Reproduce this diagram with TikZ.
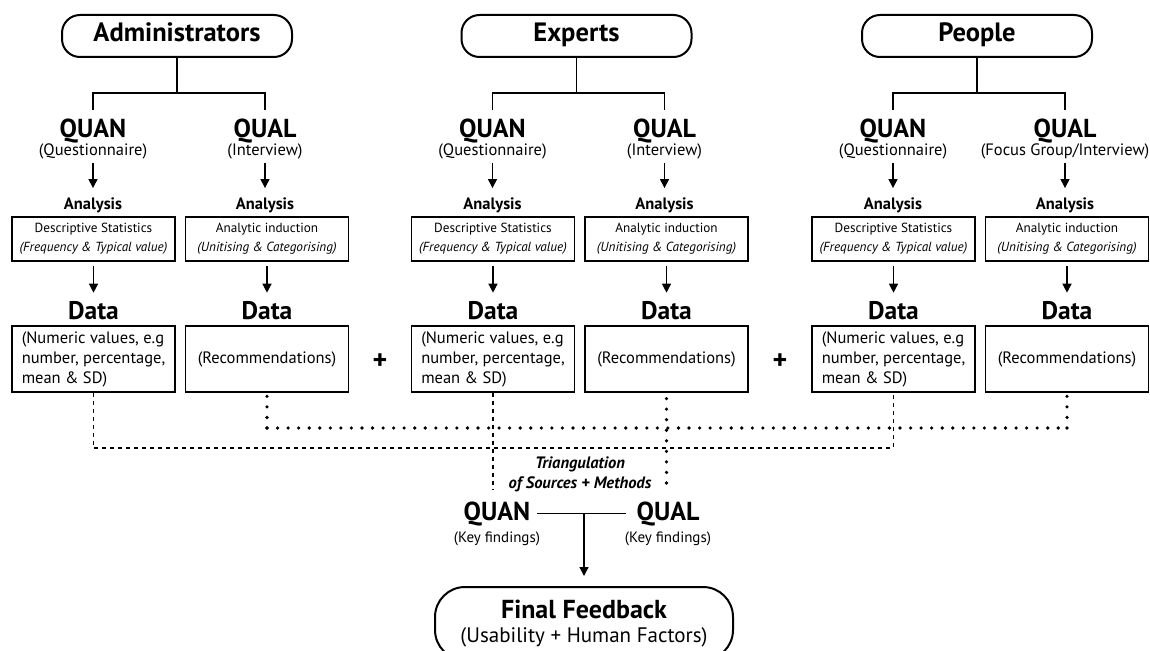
\documentclass[tikz,border=0pt]{standalone}
\usepackage{fontspec}
\setmainfont{PT Sans}
\usetikzlibrary{arrows.meta}
\tikzset{
  topbox/.style={draw, line width=2pt, rounded corners=18pt, minimum width=230pt, minimum height=42pt, inner sep=0pt, text height=18pt, text depth=6pt, font=\fontsize{26.5}{28}\selectfont\bfseries},
  methodtxt/.style={anchor=base, inner sep=0pt, font=\fontsize{26}{28}\selectfont\bfseries},
  subtxt/.style={anchor=base, inner sep=0pt, font=\fontsize{16.5}{18}\selectfont},
  antxt/.style={anchor=base, inner sep=0pt, font=\fontsize{16.5}{18}\selectfont\bfseries},
  anbox/.style={draw, line width=1.2pt, minimum width=163pt, minimum height=44pt, inner sep=0pt, align=center, font=\fontsize{13.2}{19}\selectfont},
  datatxt/.style={anchor=base, inner sep=0pt, font=\fontsize{25.5}{28}\selectfont\bfseries},
  databox/.style={draw, line width=1.2pt, minimum width=163pt, minimum height=66pt, inner sep=0pt, font=\fontsize{16.5}{20}\selectfont},
  plustxt/.style={inner sep=0pt, font=\fontsize{28}{28}\selectfont\bfseries},
  conn/.style={line width=1.3pt},
  arr/.style={line width=1.3pt, -{Triangle[width=9pt,length=9pt]}},
  dashline/.style={line width=1.2pt, dash pattern=on 4pt off 4pt},
  dotline/.style={line width=3.6pt, line cap=round, dash pattern=on 0pt off 10.55pt},
  keytxt/.style={anchor=base, inner sep=0pt, font=\fontsize{15}{18}\selectfont},
  finalbox/.style={draw, line width=2pt, rounded corners=30pt, minimum width=298pt, minimum height=73pt, inner sep=0pt, align=center, font=\fontsize{26}{24}\selectfont\bfseries},
}
\begin{document}
\begin{tikzpicture}[x=1pt, y=-1pt]
\useasboundingbox (0,0) rectangle (1150,650);
\foreach \g/\dx/\who/\qual in {1/0/Administrators/{(Interview)}, 2/399.5/Experts/{(Interview)}, 3/800/People/{(Focus Group/Interview)}} {
  \node[topbox] (top\g) at (177+\dx,36) {\who};
  \coordinate (br\g) at (177+\dx,93);
  \node[methodtxt] (qA\g) at (93+\dx,137) {QUAN};
  \node[methodtxt] (qB\g) at (265+\dx,137) {QUAL};
  \node[subtxt] (sA\g) at (93+\dx,155) {(Questionnaire)};
  \node[subtxt] (sB\g) at (265+\dx,155) {\qual};
  \node[antxt] (aA\g) at (93+\dx,209) {Analysis};
  \node[antxt] (aB\g) at (265+\dx,209) {Analysis};
  \node[anbox] (bA\g) at (93.5+\dx,239) {Descriptive Statistics\\\textit{(Frequency \& Typical value)}};
  \node[anbox] (bB\g) at (267+\dx,239) {Analytic induction\\\textit{(Unitising \& Categorising)}};
  \node[datatxt] (dA\g) at (93.5+\dx,319) {Data};
  \node[datatxt] (dB\g) at (267+\dx,319) {Data};
  \node[databox, align=left] (xA\g) at (93.5+\dx,359) {(Numeric values, e.g\\number, percentage,\\mean \& SD)};
  \node[databox] (xB\g) at (267+\dx,359) {(Recommendations)};
  \draw[conn] (top\g.south) -- (br\g);
  \draw[conn] ([yshift=8pt]qA\g.north) |- (br\g) -| ([yshift=8pt]qB\g.north);
  \draw[arr, shorten <=4pt, shorten >=9pt] (sA\g.south) -- (aA\g.north);
  \draw[arr, shorten <=4pt, shorten >=9pt] (sB\g.south) -- (aB\g.north);
  \draw[arr, shorten <=4pt, shorten >=8pt] (bA\g.south) -- (dA\g.north);
  \draw[arr, shorten <=4pt, shorten >=8pt] (bB\g.south) -- (dB\g.north);
}
\node[plustxt] (plus1) at (380,362) {+};
\node[plustxt] (plus2) at (780,362) {+};

% key findings
\node[methodtxt] (kA) at (497,520) {QUAN};
\node[keytxt] (kAs) at (497,542) {(Key findings)};
\node[methodtxt] (kB) at (668,520) {QUAL};
\node[keytxt] (kBs) at (668,542) {(Key findings)};
\node[align=center, inner sep=0pt, font=\fontsize{16.5}{20}\selectfont\bfseries\itshape] (tri) at (580,474) {Triangulation\\of Sources + Methods};
\node[finalbox] (final) at (584,623.5) {Final Feedback\\{\fontsize{21}{24}\selectfont\mdseries (Usability + Human Factors)}};

% dashed (QUAN) lines
\coordinate (dashL) at (xA1.south |- 0,448);
\coordinate (dashR) at (xA3.south |- 0,448);
\draw[dashline] (xA1.south) -- (dashL) -- (dashR) -- (xA3.south);
\draw[dashline, shorten >=12pt] (xA2.south) -- (xA2.south |- kA.north);

% dotted (QUAL) lines
\coordinate (dotL) at (xB1.south |- 0,428);
\coordinate (dotR) at (xB3.south |- 0,428);
\draw[dotline, shorten >=3pt] (dotL) -- (xB1.south);
\draw[dotline] (dotL) -- (dotR);
\draw[dotline, shorten >=3pt] (dotR) -- (xB3.south);
\draw[dotline, shorten <=6pt, shorten >=10pt] (xB2.south) -- (xB2.south |- kB.north);

% join and final arrow
\draw[conn, shorten <=7pt, shorten >=10pt] (kA.east) -- (kB.west);
\draw[arr, shorten >=10pt] (final.north |- kA.east) -- (final.north);
\end{tikzpicture}
\end{document}
